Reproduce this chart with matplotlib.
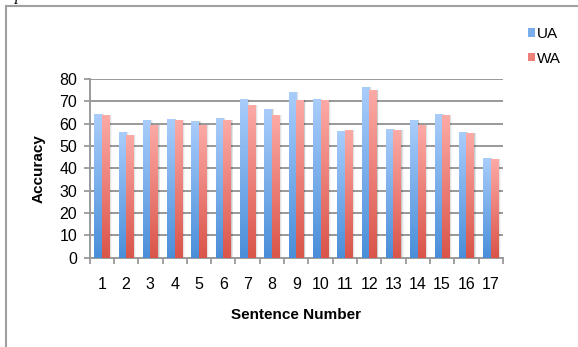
import numpy as np
import matplotlib.pyplot as plt
from matplotlib.colors import LinearSegmentedColormap
from matplotlib.patches import Patch
from matplotlib.lines import Line2D

plt.rcParams['font.family'] = ['Liberation Sans', 'DejaVu Sans']

sentences = [str(i) for i in range(1, 18)]
ua = [64.3, 56.3, 61.6, 62.1, 61.2, 62.5, 71.0, 66.6, 74.2, 71.0, 56.7, 76.4, 57.6, 61.6, 64.3, 56.3, 44.6]
wa = [63.9, 54.9, 59.4, 61.6, 59.4, 61.6, 68.4, 63.9, 70.6, 70.6, 57.2, 75.1, 57.2, 59.4, 63.9, 55.8, 44.2]
yticks = [0, 10, 20, 30, 40, 50, 60, 70, 80]

blue_grad = LinearSegmentedColormap.from_list('ua', ['#4a8ed9', '#a9cdfb'])
red_grad = LinearSegmentedColormap.from_list('wa', ['#da5449', '#fcaaa6'])


def gradient_bars(ax, bars, cmap):
    ramp = np.linspace(0, 1, 128).reshape(-1, 1)
    for b in bars:
        x0, w, h = b.get_x(), b.get_width(), b.get_height()
        # soft drop shadow on the right side
        for k, a in enumerate([0.10, 0.07, 0.04]):
            ax.bar(x0 + w / 2 + 0.035 * (k + 1), h, w, color='#000000', alpha=a,
                   linewidth=0, zorder=2)
        ax.imshow(ramp, extent=[x0, x0 + w, 0, h], origin='lower', cmap=cmap,
                  aspect='auto', zorder=3, interpolation='bilinear')
        b.set_visible(False)


fig = plt.figure(figsize=(5.78, 3.47), dpi=100)
ax = fig.add_axes([0.155, 0.2573, 0.715, 0.515])

x = np.arange(1, len(sentences) + 1)
w = 0.31
b1 = ax.bar(x - w / 2, ua, w, color='#7aaeea')
b2 = ax.bar(x + w / 2, wa, w, color='#ee807a')
gradient_bars(ax, b1, blue_grad)
gradient_bars(ax, b2, red_grad)

ax.set_xlim(0.5, len(sentences) + 0.5)
ax.set_ylim(0, 80)
ax.set_yticks(yticks)
ax.set_xticks(x)
ax.set_xticklabels(sentences)
ax.set_xticks(np.arange(0.5, len(sentences) + 1), minor=True)

ax.yaxis.grid(True, color='#999999', linewidth=1.4, zorder=1)
ax.set_axisbelow(True)
for s in ['top', 'right']:
    ax.spines[s].set_visible(False)
for s in ['left', 'bottom']:
    ax.spines[s].set_color('#9a9a9a')
    ax.spines[s].set_linewidth(1.4)

ax.tick_params(axis='y', length=4, width=1.3, color='#9a9a9a', pad=5, labelsize=11.5)
ax.tick_params(axis='x', which='major', length=0, pad=14, labelsize=11.5)
ax.tick_params(axis='x', which='minor', length=4, width=1.3, color='#9a9a9a')

ax.set_xlabel('Sentence Number', fontsize=11, fontweight='bold')
ax.set_ylabel('Accuracy', fontsize=11, fontweight='bold')
ax.xaxis.set_label_coords(0.5, -0.284)
ax.yaxis.set_label_coords(-0.107, 0.5)

handles = [Patch(facecolor='#7aaeea', label='UA'), Patch(facecolor='#ee807a', label='WA')]
fig.legend(handles=handles, loc='upper left', bbox_to_anchor=(528 / 578, 1 - 27 / 347),
           frameon=False, fontsize=11, handlelength=0.45, handleheight=0.45,
           handletextpad=0.15, labelspacing=0.7, borderpad=0, borderaxespad=0)

# outer frame of the chart area
fig.add_artist(Line2D([6 / 578, 6 / 578], [0, 1 - 6 / 347], color='#a0a0a0', lw=1.5))
fig.add_artist(Line2D([6 / 578, 1], [1 - 6 / 347, 1 - 6 / 347], color='#a0a0a0', lw=1.5))
fig.text(15 / 578, 1 + 4 / 347, 'p', fontsize=12, fontstyle='italic',
         family='Liberation Serif', va='center')

fig.savefig('out.png', dpi=100)
